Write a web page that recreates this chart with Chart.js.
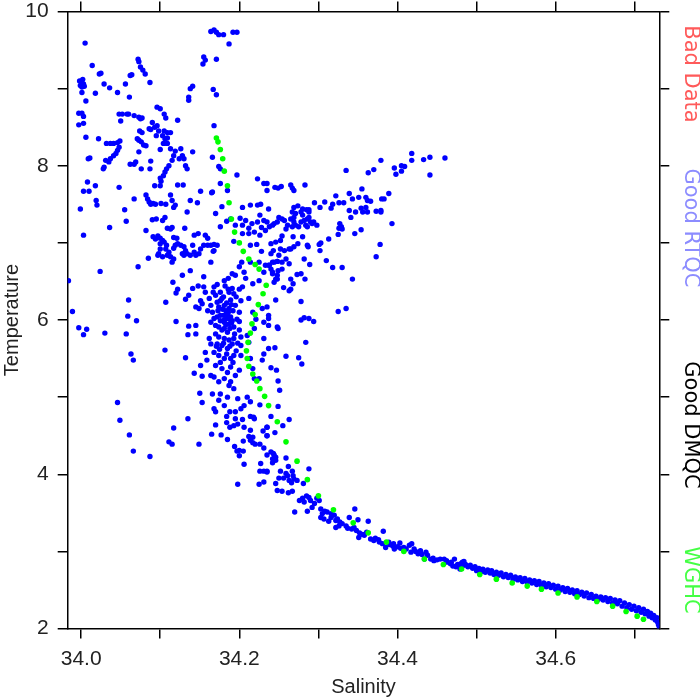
<!DOCTYPE html>
<html><head><meta charset="utf-8">
<script src="https://cdn.jsdelivr.net/npm/chart.js@4/dist/chart.umd.min.js"></script>
<style>html,body{margin:0;padding:0;background:#fff}#wrap{width:700px;height:700px;position:relative}</style>
</head><body><div id="wrap"><canvas id="c" width="700" height="700"></canvas></div>
<script>
// ---- axis ticks ----
const xTickVals = [34.0,34.1,34.2,34.3,34.4,34.5,34.6,34.7];
const xTickLabels = ['34.0','','34.2','','34.4','','34.6',''];
const yTickVals = [2,3,4,5,6,7,8,9,10];
const yTickLabels = ['2','','4','','6','','8','','10'];
const xRange = [33.983, 34.731];
const yRange = [2, 10];
const sideLabels = ['Bad Data','Good RTQC','Good DMQC','WGHC'];

// ---- WGHC climatology (green) ----
const wghc = [[34.171,8.36],[34.173,8.31],[34.176,8.21],[34.179,8.09],[34.181,7.93],[34.185,7.74],[34.187,7.52],
[34.190,7.31],[34.194,7.14],[34.200,7.00],[34.205,6.89],[34.212,6.79],[34.220,6.72],[34.225,6.66],[34.234,6.45],[34.230,6.34],[34.224,6.20],[34.220,6.07],[34.216,5.95],[34.214,5.83],[34.211,5.71],[34.209,5.60],[34.210,5.50],[34.212,5.40],[34.217,5.30],[34.222,5.21],[34.226,5.11],[34.232,5.01],[34.237,4.89],[34.248,4.68],[34.259,4.42],[34.273,4.17],[34.286,3.93],[34.300,3.72],[34.319,3.54],[34.344,3.37],[34.363,3.24],[34.386,3.12],[34.408,3.00],[34.434,2.90],[34.458,2.83],[34.481,2.77],[34.504,2.70],[34.525,2.64],[34.545,2.59],[34.564,2.55],[34.582,2.51],[34.603,2.46],[34.627,2.41],[34.652,2.35],[34.672,2.29],[34.689,2.22],[34.703,2.16],[34.711,2.12]];

// ---- Good DMQC profile points (blue) ----
const dmqcUpper = [[34.164,9.74],[34.168,9.76],[34.171,9.73],[34.174,9.70],[34.180,9.70],[34.192,9.73],[34.197,9.73],
[34.187,9.58],[34.005,9.59],[34.014,9.30],[34.023,9.19],[34.025,9.20],
[34.001,9.08],[33.999,9.04],[34.003,9.06],[34.001,9.02],[34.004,9.03],[33.998,9.10],[34.002,9.12],
[34.001,8.95],[34.006,8.84],[34.018,8.94],[34.029,9.06],[34.036,9.01],[34.046,8.95],[34.056,9.06],[34.061,8.89],
[34.062,9.17],[34.064,9.18],
[34.072,9.38],[34.073,9.35],[34.075,9.28],[34.078,9.24],[34.081,9.19],[34.087,9.08],
[34.096,8.76],[34.100,8.74],[34.105,8.67],[34.107,8.62],[34.122,8.59],
[34.141,9.03],[34.138,9.00],[34.136,8.89],[34.136,8.85],
[34.155,9.41],[34.157,9.37],[34.154,9.32],[34.171,9.38],
[34.167,8.99],[34.171,8.92],[34.168,8.52],
[33.997,8.68],[34.001,8.68],[34.003,8.64],[33.997,8.53],[34.003,8.55],[34.006,8.37],[34.022,8.35],
[34.048,8.67],[34.052,8.67],[34.058,8.67],[34.060,8.67],[34.067,8.65],[34.073,8.63],[34.075,8.61],[34.077,8.62],[34.050,8.58],
[34.090,8.56],[34.093,8.50],[34.086,8.48],[34.088,8.47],[34.096,8.52],[34.098,8.45],[34.095,8.39],
[34.105,8.45],[34.109,8.43],[34.113,8.43],[34.103,8.39],[34.106,8.35],[34.109,8.36],[34.109,8.29],[34.104,8.29],
[34.074,8.45],[34.077,8.43],[34.071,8.35],[34.073,8.33],[34.076,8.31],[34.079,8.27],[34.082,8.26],
[34.032,8.29],[34.037,8.29],[34.041,8.29],[34.046,8.30],[34.049,8.32],[34.048,8.24],[34.046,8.20],[34.044,8.16],[34.041,8.13],[34.037,8.09],[34.035,8.05],[34.031,8.07],[34.029,7.98],[34.028,7.96],
[34.009,8.09],[34.011,8.10],
[34.062,8.02],[34.067,8.02],[34.069,8.05],[34.073,8.18],[34.076,7.96],[34.088,8.06],[34.087,7.96],
[34.100,8.21],[34.105,8.29],
[34.113,8.22],[34.119,8.19],[34.117,8.13],[34.115,8.07],[34.111,8.00],[34.108,7.96],[34.106,7.92],[34.104,7.87],[34.100,7.84],
[34.126,8.22],[34.128,8.13],[34.130,8.09],[34.124,8.09],[34.132,8.00],[34.134,7.96],
[34.141,8.18],[34.166,8.11],[34.174,7.99],[34.176,7.96],[34.197,7.88],[34.223,7.83],[34.231,7.77],
[34.176,7.77],[34.185,7.68],[34.166,7.66],[34.178,7.47],
[34.204,7.46],[34.214,7.49],[34.223,7.49],[34.227,7.50],
[34.008,7.79],[34.003,7.67],[34.010,7.67],[34.018,7.74],[34.019,7.55],[34.020,7.49],[33.999,7.44],
[34.048,7.72],[34.055,7.43],[34.067,7.57],
[34.082,7.62],[34.084,7.57],[34.086,7.53],[34.088,7.50],[34.091,7.51],[34.094,7.50],[34.101,7.51],
[34.093,7.74],[34.100,7.74],[34.101,7.80],[34.107,7.50],
[34.113,7.62],[34.115,7.55],[34.117,7.46],[34.119,7.49],[34.122,7.75],[34.129,7.75],
[34.138,7.55],[34.147,7.52],[34.151,7.67],[34.165,7.65]];

const dmqcBranch = [[34.418,8.16],[34.418,8.07],[34.433,8.08],[34.441,8.11],[34.460,8.10],[34.441,7.88],
[34.379,8.07],[34.370,7.95],[34.363,7.91],[34.396,7.97],[34.398,7.89],
[34.405,8.00],[34.409,7.99],[34.405,7.93],[34.335,7.94],[34.283,7.75],
[34.265,7.75],[34.267,7.71],[34.269,7.68],[34.245,7.72],[34.249,7.71],[34.253,7.73],[34.235,7.77],[34.235,7.68],
[34.355,7.70],[34.339,7.64],[34.343,7.57],[34.351,7.59],[34.360,7.59],[34.362,7.55],[34.366,7.54],
[34.380,7.57],[34.383,7.57],[34.389,7.64],[34.322,7.61],[34.318,7.50],[34.316,7.45],[34.326,7.52],[34.332,7.52],
[34.308,7.53],[34.295,7.52],[34.302,7.46],
[34.269,7.46],[34.274,7.48],[34.280,7.44],[34.285,7.43],[34.288,7.43],
[34.339,7.42],[34.354,7.45],[34.360,7.46],[34.373,7.41],[34.379,7.42],[34.237,7.44],
[34.393,7.25],[34.341,7.33],[34.347,7.40],[34.356,7.40],[34.379,7.40],[34.362,7.40],
[34.327,7.25],[34.329,7.21],[34.326,7.19],[34.330,7.18],[34.325,7.11],
[34.354,7.17],[34.346,7.12],[34.313,7.05],[34.301,6.98],[34.303,7.00],[34.302,6.90],
[34.378,6.98],[34.373,6.82],[34.310,6.77],[34.318,6.68],[34.330,6.68],[34.343,6.53],
[34.325,6.11],[34.335,6.15],[34.278,6.24],
[34.278,6.00],[34.282,6.03],[34.288,6.02],[34.294,5.98],[34.284,5.71],[34.275,5.51],[34.279,5.43],
[34.259,5.53],[34.245,5.64],[34.237,5.63],[34.240,5.38],[34.247,5.35],[34.249,5.21],[34.251,5.09],[34.249,4.88],
[34.248,5.91],[34.249,5.89],[34.237,5.93],
[34.235,6.17],[34.237,6.06],[34.237,6.02],[34.246,6.26],
[34.256,6.42],[34.263,6.38],[34.265,6.40],[34.268,6.47],[34.265,6.53],[34.273,6.59],[34.278,6.60],[34.283,6.53],
[34.244,6.49],[34.246,6.53],[34.248,6.58],[34.249,6.64],[34.242,6.62],[34.240,6.66],[34.237,6.71],[34.242,6.75],[34.248,6.76],[34.254,6.75],
[34.282,6.79],[34.289,6.72],
[34.274,6.99],[34.280,7.08],[34.286,6.97],[34.287,6.95],[34.268,7.08],[34.265,6.92],[34.269,6.95],[34.263,6.92],[34.257,6.90],[34.252,6.92],[34.250,6.84],[34.243,6.90],[34.240,6.99],[34.246,7.01],[34.252,7.03],[34.254,7.09],[34.259,7.18],[34.261,7.23],[34.267,7.21],[34.271,7.23],[34.275,7.21],[34.269,7.27],[34.265,7.31],[34.257,7.29],[34.254,7.31],[34.250,7.33],[34.248,7.27],[34.244,7.25],[34.242,7.23],[34.238,7.21],[34.235,7.27],[34.278,7.27],[34.282,7.29],[34.286,7.31],[34.288,7.33],[34.290,7.27],[34.292,7.25],[34.294,7.27],[34.298,7.23],[34.286,7.21],[34.284,7.23],[34.269,7.33],[34.271,7.38],[34.267,7.40],[34.280,7.36],[34.278,7.40],[34.288,7.40],
[34.244,6.75],[34.248,6.76],[34.242,6.60],[34.238,6.71],[34.240,6.86],[34.259,6.79],[34.263,6.73],[34.254,6.66],[34.248,6.53]];

const dmqcCore = [[34.090,7.30],[34.095,7.31],[34.103,7.29],[34.106,7.33],[34.134,7.40],[34.170,7.38],
[34.036,7.20],[34.057,7.28],[34.082,7.16],[34.003,7.10],
[34.109,7.19],[34.113,7.18],[34.115,7.20],[34.131,7.19],
[34.143,7.10],[34.148,7.12],[34.157,7.10],[34.160,7.06],[34.117,7.07],[34.121,7.06],
[34.091,7.08],[34.094,7.05],[34.097,7.09],[34.100,7.06],[34.103,7.03],[34.105,7.01],[34.100,6.99],[34.108,6.97],[34.107,6.92],[34.100,6.92],[34.098,6.86],[34.097,6.84],[34.103,6.82],
[34.109,6.84],[34.113,6.82],[34.117,6.79],[34.115,6.75],[34.111,6.88],[34.117,6.93],[34.119,6.97],[34.122,6.99],[34.126,6.97],[34.130,6.95],[34.132,6.90],[34.134,6.86],[34.128,6.86],[34.130,6.84],[34.138,6.84],[34.143,6.88],[34.141,6.97],[34.145,6.84],[34.149,6.86],[34.151,6.92],[34.155,6.97],[34.160,6.97],[34.164,6.97],[34.168,6.98],[34.172,6.97],[34.168,6.90],
[34.085,6.80],[34.072,6.69],[34.024,6.63],[33.984,6.51],[34.167,6.89],[34.164,6.75],
[34.128,6.58],[34.138,6.64],[34.116,6.49],[34.122,6.40],[34.120,6.35],[34.107,6.23],[34.132,6.27],[34.136,6.32],
[34.060,6.26],[33.989,6.11],[34.059,6.05],[34.070,5.99],[34.120,5.98],
[33.997,5.90],[34.007,5.88],[34.003,5.81],[34.030,5.83],[34.057,5.82],
[34.136,5.92],[34.145,5.93],[34.145,5.82],[34.135,5.81],
[34.106,5.61],[34.063,5.56],[34.066,5.48],[34.132,5.51],
[34.143,5.31],[34.151,5.41],[34.153,5.27],[34.150,5.05],[34.153,4.93],[34.046,4.93],
[34.176,7.21],[34.184,7.28],[34.189,7.31],[34.195,7.23],[34.201,7.32],[34.204,7.23],[34.208,7.29],[34.212,7.19],[34.216,7.25],[34.219,7.14],[34.223,7.27],[34.226,7.36],[34.228,7.20],[34.231,7.29],[34.233,7.16],[34.226,7.10],[34.212,7.12],[34.204,7.12],[34.193,7.02],[34.214,6.97],[34.222,6.98],[34.228,6.89],[34.225,6.75],[34.214,6.75],[34.203,6.75],[34.206,6.62],[34.191,6.60],[34.195,6.58],[34.200,6.69],[34.186,6.54],[34.181,6.51],[34.172,6.46],[34.168,6.43],[34.167,6.36],[34.170,6.32],[34.176,6.36],[34.180,6.30],[34.187,6.36],[34.191,6.41],[34.193,6.34],[34.200,6.40],[34.204,6.43],[34.208,6.54],[34.217,6.47],[34.225,6.51],[34.231,6.62],[34.233,6.71],
[34.155,6.56],[34.148,6.44],[34.141,6.41],[34.155,6.43],[34.157,6.36],[34.151,6.25],[34.153,6.21],[34.145,6.17],[34.149,6.15],[34.162,6.28],[34.164,6.19],[34.160,6.12],[34.166,6.10],[34.172,6.23],[34.174,6.17],[34.176,6.25],[34.181,6.19],[34.183,6.12],[34.185,6.08],[34.180,6.06],[34.187,6.15],[34.189,6.04],[34.184,6.02],[34.181,5.97],[34.187,5.95],[34.191,5.99],[34.176,5.99],[34.172,6.04],[34.168,6.02],[34.164,5.97],[34.170,5.93],[34.174,5.91],[34.181,5.89],[34.188,5.89],[34.193,5.91],[34.197,6.01],[34.200,6.10],[34.195,6.19],[34.202,6.25],[34.212,6.28],[34.217,6.10],[34.221,6.01],[34.229,6.15],[34.231,5.97],[34.219,5.89],[34.210,5.80],[34.202,5.78],[34.193,5.76],[34.187,5.74],[34.181,5.76],[34.174,5.78],[34.170,5.82],[34.172,5.69],[34.178,5.67],[34.185,5.63],[34.191,5.69],[34.200,5.87],[34.212,5.71],[34.231,5.76],
[34.182,6.44],[34.186,6.40],[34.178,6.28],[34.184,6.22],[34.189,6.26],[34.179,6.14],[34.186,6.10],[34.192,6.12],[34.181,6.00],[34.188,6.01],[34.176,6.06],[34.183,5.94],[34.190,5.96],[34.178,5.87],[34.185,5.84],[34.194,5.82],[34.180,5.70],[34.188,5.66],[34.196,5.60],[34.175,5.62],[34.184,5.56],[34.192,5.45],[34.171,5.66],[34.190,6.20],[34.196,6.30],[34.173,6.12],[34.200,5.98],[34.198,5.70],
[34.157,5.58],[34.159,5.48],[34.162,5.76],[34.164,5.69],[34.168,5.58],[34.174,5.54],[34.176,5.45],[34.170,5.41],[34.181,5.50],[34.189,5.50],[34.193,5.54],[34.202,5.54],[34.202,5.67],[34.214,5.50],[34.229,5.48],[34.231,5.56],[34.178,5.37],[34.185,5.32],[34.189,5.39],[34.195,5.28],[34.181,5.24],[34.174,5.20],[34.168,5.26],[34.164,5.28],[34.187,5.15],[34.193,5.11],[34.189,5.20],[34.217,5.37],[34.219,5.24],[34.225,5.24],[34.166,5.04],[34.174,4.96],[34.176,5.04],[34.168,4.85],[34.181,4.89],[34.185,5.00],[34.198,4.98],[34.202,4.85],[34.206,4.89],[34.210,5.00],[34.214,4.94],[34.226,4.90],[34.200,5.35]];

const dmqcLower = [[34.049,4.70],[34.061,4.51],[34.066,4.30],[34.087,4.23],[34.111,4.42],[34.115,4.39],[34.117,4.60],[34.135,4.72],[34.149,4.39],[34.165,4.52],[34.170,4.64],[34.170,4.81],[34.177,4.51],
[34.184,4.75],[34.184,4.67],[34.185,4.45],[34.188,4.61],[34.188,4.81],[34.193,4.63],[34.195,4.72],[34.198,4.65],[34.195,4.81],[34.204,4.71],[34.206,4.61],[34.205,4.43],
[34.194,4.36],[34.197,4.30],[34.200,4.31],[34.200,4.24],[34.205,4.30],[34.206,4.13],[34.198,3.87],
[34.214,4.75],[34.218,4.74],[34.219,4.72],[34.214,4.57],[34.212,4.49],[34.217,4.48],[34.214,4.44],[34.217,4.41],[34.220,4.39],[34.226,4.39],[34.231,4.34],[34.235,4.50],[34.230,4.56],[34.235,4.61],
[34.227,4.14],[34.226,4.04],[34.231,4.04],[34.235,4.03],[34.225,3.87],[34.231,3.90],[34.235,4.25],
[34.240,4.75],[34.255,4.63],[34.263,4.71],[34.235,4.61],[34.235,4.50],[34.245,4.54],
[34.240,4.29],[34.244,4.25],[34.242,4.20],[34.246,4.22],[34.242,4.15],[34.243,4.27],[34.246,4.18],
[34.259,4.21],[34.235,4.04],
[34.262,4.10],[34.252,4.04],[34.259,4.01],[34.267,4.04],[34.268,3.98],[34.261,3.98],[34.263,3.92],[34.266,3.89],[34.269,3.94],[34.273,3.92],[34.256,3.95],[34.250,3.95],[34.246,3.88],[34.248,3.79],[34.254,3.78],[34.262,3.76],[34.267,3.78],[34.281,3.88],[34.288,4.07],
[34.276,3.66],[34.280,3.69],[34.285,3.72],[34.288,3.70],[34.290,3.66],[34.282,3.64],[34.298,3.69],[34.301,3.66],[34.295,3.62],[34.292,3.57],[34.286,3.52],[34.270,3.51],
[34.303,3.55],[34.308,3.52],[34.311,3.51],[34.316,3.49],[34.320,3.47],[34.305,3.49],[34.303,3.44],[34.307,3.42],[34.316,3.44],[34.313,3.39],[34.322,3.40],[34.324,3.42],[34.327,3.38],[34.322,3.31],[34.326,3.33],[34.346,3.55],[34.339,3.44],[34.350,3.41],[34.363,3.39],[34.337,3.30],[34.345,3.31],[34.348,3.27],[34.351,3.18],[34.358,3.21],[34.361,3.25],[34.366,3.16],[34.370,3.14],[34.377,3.12],[34.382,3.26],[34.381,3.10],[34.385,3.05],[34.389,3.12],[34.395,3.10],[34.396,3.03],[34.403,3.11],[34.408,3.05],[34.411,3.03],[34.415,3.08],[34.418,3.10],[34.421,3.03],[34.417,2.99],[34.423,3.00],[34.429,3.01],[34.436,2.99],[34.438,2.95],[34.442,2.90],[34.446,2.88],[34.434,2.90],[34.454,2.90],[34.459,2.90],[34.463,2.86],[34.467,2.84],[34.470,2.81],[34.474,2.80],[34.479,2.77],[34.484,2.82],[34.482,2.86],[34.472,2.90],
[34.330,3.36],[34.335,3.33],[34.342,3.29],[34.352,3.24],[34.356,3.22],[34.372,3.17],[34.376,3.15],[34.390,3.09],[34.394,3.07],[34.400,3.06],[34.404,3.04],[34.426,2.97],[34.431,2.96],[34.450,2.89],[34.445,2.91],[34.462,2.88],[34.476,2.83],[34.468,2.86]];

const dmqcTail = [[34.480,2.84],[34.480,2.79],[34.484,2.87],[34.486,2.83],[34.489,2.80],[34.492,2.82],[34.495,2.78],[34.498,2.80],[34.500,2.75],[34.503,2.78],[34.506,2.74],[34.508,2.77],[34.511,2.73],[34.514,2.76],[34.517,2.72],[34.519,2.75],[34.522,2.70],[34.525,2.73],[34.528,2.69],[34.531,2.72],[34.534,2.67],[34.537,2.70],[34.540,2.66],[34.543,2.69],[34.546,2.64],[34.549,2.67],[34.552,2.63],[34.555,2.66],[34.558,2.61],[34.561,2.65],[34.564,2.60],[34.567,2.63],[34.570,2.59],[34.573,2.62],[34.576,2.57],[34.579,2.61],[34.582,2.56],[34.585,2.59],[34.588,2.54],[34.591,2.58],[34.594,2.53],[34.597,2.56],[34.600,2.51],[34.603,2.55],[34.606,2.50],[34.609,2.53],[34.612,2.48],[34.615,2.52],[34.618,2.47],[34.621,2.50],[34.624,2.45],[34.627,2.49],[34.630,2.44],[34.633,2.47],[34.636,2.42],[34.639,2.46],[34.642,2.40],[34.645,2.44],[34.648,2.39],[34.651,2.42],[34.654,2.38],[34.657,2.41],[34.660,2.37],[34.663,2.40],[34.666,2.35],[34.669,2.39],[34.672,2.33],[34.675,2.37],[34.678,2.32],[34.681,2.36],[34.684,2.29],[34.687,2.33],[34.690,2.27],[34.693,2.31],[34.696,2.25],[34.699,2.29],[34.702,2.23],[34.705,2.27],[34.708,2.21],[34.711,2.25],[34.713,2.19],[34.716,2.22],[34.718,2.16],[34.720,2.20],[34.722,2.14],[34.724,2.17],[34.726,2.11],[34.728,2.14],[34.729,2.08],[34.730,2.05],[34.731,2.02]];

const dmqc = [].concat(dmqcUpper, dmqcBranch, dmqcCore, dmqcLower, dmqcTail);
const toXY = arr => arr.map(p => ({x: p[0], y: p[1]}));

const sidePlugin = {
  id: 'sideLabels',
  afterDraw(chart) {
    const c = chart.ctx;
    const colors = ['#ff5a5a', '#8c8cff', '#000000', '#44ff44'];
    const ys = [74, 228, 425, 580];
    c.save();
    c.font = '21px "DejaVu Sans"';
    c.textAlign = 'center';
    c.textBaseline = 'middle';
    sideLabels.forEach((t, i) => {
      c.save();
      c.translate(690, ys[i]);
      c.rotate(Math.PI / 2);
      c.fillStyle = colors[i];
      c.fillText(t, 0, 0);
      c.restore();
    });
    c.restore();
  }
};

const tickFont = {family: '"Liberation Sans", Arial, sans-serif', size: 21};
const gridOpts = {display: true, drawOnChartArea: false, drawTicks: true, tickLength: 10, color: '#000', lineWidth: 1.5};
const borderOpts = {display: true, color: '#000', width: 1.5};
const noPadV = s => { s.paddingTop = 0; s.paddingBottom = 0; };
const noPadH = s => { s.paddingLeft = 0; s.paddingRight = 0; };

new Chart(document.getElementById('c'), {
  type: 'scatter',
  data: {
    datasets: [
      {label: 'WGHC', data: toXY(wghc), pointBackgroundColor: '#00ff00', pointRadius: 2.8, pointBorderWidth: 0, pointHoverRadius: 2.8},
      {label: 'Good DMQC', data: toXY(dmqc), pointBackgroundColor: '#0000ff', pointRadius: 2.7, pointBorderWidth: 0, pointHoverRadius: 2.7}
    ]
  },
  options: {
    responsive: false, animation: false, devicePixelRatio: 1,
    layout: {padding: 0},
    plugins: {legend: {display: false}, tooltip: {enabled: false}},
    scales: {
      x: {
        type: 'linear', position: 'bottom', min: xRange[0], max: xRange[1],
        afterBuildTicks: a => { a.ticks = xTickVals.map(v => ({value: v})); },
        afterFit: s => { s.height = 71.5; noPadH(s); },
        ticks: {autoSkip: false, maxRotation: 0, padding: 8, color: '#222', font: tickFont, callback: (v, i) => xTickLabels[i]},
        grid: gridOpts, border: borderOpts,
        title: {display: true, text: 'Salinity', color: '#222', font: {family: '"Liberation Sans", Arial, sans-serif', size: 20}, padding: {top: 0, bottom: 1}}
      },
      x2: {
        type: 'linear', position: 'top', min: xRange[0], max: xRange[1],
        afterBuildTicks: a => { a.ticks = xTickVals.map(v => ({value: v})); },
        afterFit: s => { s.height = 11.5; noPadH(s); },
        ticks: {autoSkip: false, maxRotation: 0, callback: () => ''},
        grid: gridOpts, border: borderOpts
      },
      y: {
        type: 'linear', position: 'left', min: yRange[0], max: yRange[1],
        afterBuildTicks: a => { a.ticks = yTickVals.map(v => ({value: v})); },
        afterFit: s => { s.width = 67.7; noPadV(s); },
        ticks: {autoSkip: false, padding: 9, color: '#222', font: tickFont, callback: (v, i) => yTickLabels[i]},
        grid: gridOpts, border: borderOpts,
        title: {display: true, text: 'Temperature', color: '#222', font: {family: '"Liberation Sans", Arial, sans-serif', size: 20}, padding: {top: 0, bottom: 0}}
      },
      y2: {
        type: 'linear', position: 'right', min: yRange[0], max: yRange[1],
        afterBuildTicks: a => { a.ticks = yTickVals.map(v => ({value: v})); },
        afterFit: s => { s.width = 40.7; noPadV(s); },
        ticks: {autoSkip: false, callback: () => ''},
        grid: gridOpts, border: borderOpts
      }
    }
  },
  plugins: [sidePlugin]
});
</script>
</body></html>
